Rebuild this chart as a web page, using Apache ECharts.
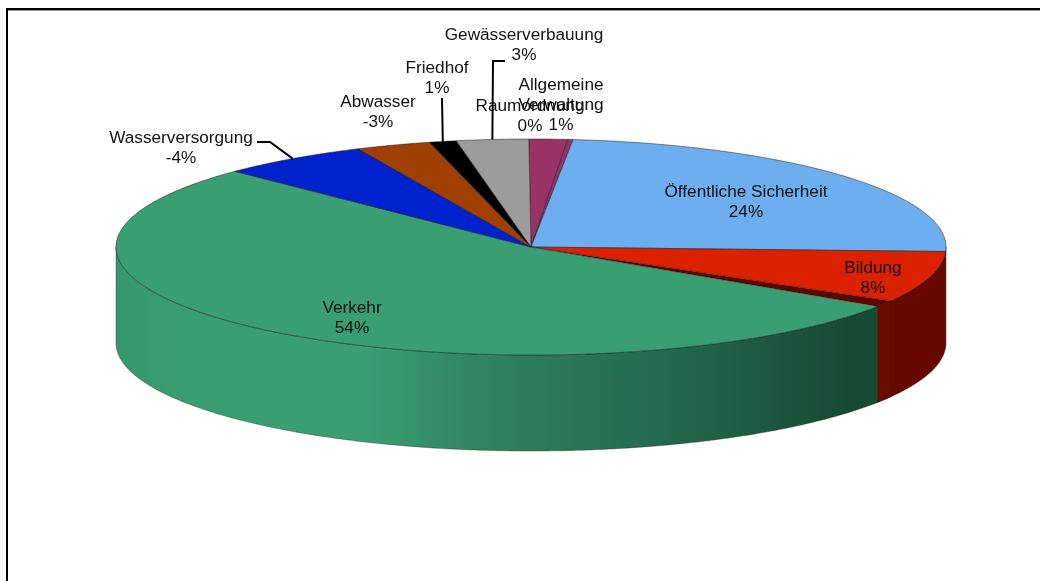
<!DOCTYPE html>
<html>
<head>
<meta charset="utf-8">
<style>
html, body { margin: 0; padding: 0; background: #fff; }
#chart { width: 1040px; height: 581px; }
</style>
<script src="https://cdn.jsdelivr.net/npm/echarts@6/dist/echarts.min.js"></script>
</head>
<body>
<div id="chart"></div>
<script>
// clockwise from 12 o'clock, as in the original
var names = ['Allgemeine\nVerwaltung', 'Raumordnung', 'Öffentliche Sicherheit', 'Bildung', 'Verkehr', 'Wasserversorgung', 'Abwasser', 'Friedhof', 'Gewässerverbauung'];
var labels = ['1%', '0%', '24%', '8%', '54%', '-4%', '-3%', '1%', '3%'];
// slice sizes, share of the full circle
var shares = [1.5, 0.2, 24.05, 8.6, 53.1, 5.8, 2.9, 1.05, 2.8];

var topColors = ['#993366', '#993366', '#6caeee', '#db2100', '#3a9e73', '#0022cc', '#a04000', '#000000', '#9c9c9c'];
// the sliver of wall under Öffentliche Sicherheit reads as part of Bildung's red wall
var sideColors = ['#5c1f3d', '#4a1630', '#660800', '#660800', '#164a33', '#001470', '#602600', '#000000', '#5e5e5e'];

// layout
var cx = 531, cy = 247, rx = 415, ry = 108, depth = 96;
var startAngle = 90.3;
var bildungWall = 3.4; // degrees of Bildung's cut wall showing at its lower edge
var labelPos = [[561, 105], [530, 116], [746, 202], [873, 278], [352, 318], [181, 148], [378, 112], [437, 78], [524, 45]];
var leaders = [null, null, null, null, null, [[257, 142], [270, 142]], null, [[442, 98]], [[505, 61], [493, 61]]];

function pt(deg, yOff) {
    var a = deg * Math.PI / 180;
    return [cx + rx * Math.cos(a), cy - ry * Math.sin(a) + (yOff || 0)];
}

function arcPoints(from, to, yOff) {
    var pts = [], n = Math.max(2, Math.ceil(Math.abs(from - to) * 2));
    for (var i = 0; i <= n; i++) pts.push(pt(from + (to - from) * i / n, yOff));
    return pts;
}

// angle range of slice i, running clockwise
function range(i) {
    var sum = 0;
    for (var k = 0; k < i; k++) sum += shares[k];
    var a0 = startAngle - sum * 3.6;
    return [a0, a0 - shares[i] * 3.6];
}

function wall(from, to, fill) {
    // outer wall only exists on the front half (0 .. -180)
    var a = Math.min(from, 0), b = Math.max(to, -180);
    if (a <= b) return null;
    var upper = arcPoints(a, b, 0), lower = arcPoints(b, a, depth);
    return {
        type: 'polygon',
        shape: { points: upper.concat(lower) },
        style: { fill: fill, stroke: 'rgba(40,20,20,0.6)', lineWidth: 0.6 }
    };
}

function renderSlice(params, api) {
    var i = api.value(0);
    var r = range(i);
    var kids = [];
    var sideFill = sideColors[i];
    if (names[i] === 'Verkehr') {
        sideFill = {
            type: 'linear', x: cx - rx, y: 0, x2: cx + rx, y2: 0, global: true,
            colorStops: [
                { offset: 0, color: '#37966c' },
                { offset: 0.08, color: '#3a9e73' },
                { offset: 0.3, color: '#3a9e73' },
                { offset: 0.43, color: '#318560' },
                { offset: 0.7, color: '#22634a' },
                { offset: 0.88, color: '#164a33' },
                { offset: 1, color: '#164a33' }
            ]
        };
    }
    var w = wall(r[0], r[1], sideFill);
    if (w) kids.push(w);
    var topEnd = r[1];
    if (names[i] === 'Bildung') {
        topEnd = r[1] + bildungWall;
        var seam = wall(topEnd, r[1], '#6a0c00');
        if (seam) kids.push(seam);
        kids.push({
            type: 'polygon',
            shape: { points: [[cx, cy]].concat(arcPoints(topEnd, r[1], 0)) },
            style: { fill: '#5a0700' }
        });
    }
    kids.push({
        type: 'polygon',
        shape: { points: [[cx, cy]].concat(arcPoints(r[0], topEnd, 0)) },
        style: { fill: topColors[i], stroke: 'rgba(30,20,30,0.7)', lineWidth: 0.7 }
    });
    return { type: 'group', children: kids };
}

function renderLabel(params, api) {
    var i = api.value(0);
    var kids = [{
        type: 'text',
        x: labelPos[i][0], y: labelPos[i][1],
        style: {
            text: names[i] + '\n' + labels[i],
            fill: '#111',
            font: '17.2px "Liberation Sans", Arial, sans-serif',
            align: 'center', verticalAlign: 'middle', lineHeight: 20
        }
    }];
    if (leaders[i]) {
        var r = range(i);
        kids.push({
            type: 'polyline',
            shape: { points: leaders[i].concat([pt((r[0] + r[1]) / 2, 0)]) },
            style: { fill: 'none', stroke: '#000', lineWidth: 2 }
        });
    }
    return { type: 'group', children: kids };
}

var indexes = names.map(function (n, i) { return [i]; });
// Raumordnung and Allgemeine Verwaltung labels overlap in the original
var chart = echarts.init(document.getElementById('chart'), null, { renderer: 'canvas' });
chart.setOption({
    animation: false,
    backgroundColor: '#fff',
    graphic: [{
        type: 'polyline',
        shape: { points: [[7, 581], [7, 9], [1040, 9]] },
        style: { fill: 'none', stroke: '#000', lineWidth: 2 }
    }, {
        type: 'line',
        shape: { x1: 8, y1: 10.5, x2: 1040, y2: 10.5 },
        style: { stroke: '#999', lineWidth: 1 }
    }],
    series: [
        { type: 'custom', coordinateSystem: 'none', silent: true, renderItem: renderSlice, data: indexes, z: 2 },
        { type: 'custom', coordinateSystem: 'none', silent: true, renderItem: renderLabel, data: indexes, z: 3 }
    ]
});
</script>
</body>
</html>
